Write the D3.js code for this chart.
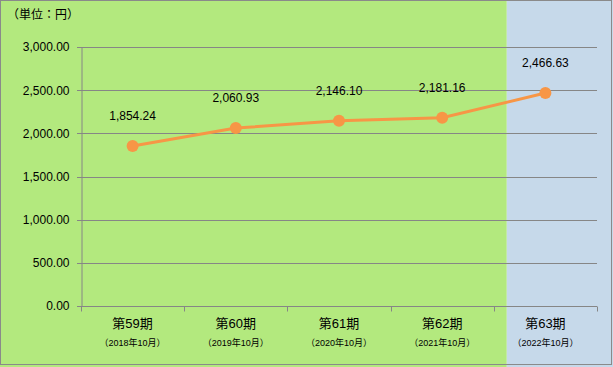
<!DOCTYPE html>
<html>
<head>
<meta charset="utf-8">
<script src="https://cdn.jsdelivr.net/npm/d3@7"></script>
<style>
  body { margin: 0; background: #fff; }
  text { font-family: "Liberation Sans", Arial, "Noto Sans CJK JP", sans-serif; }
</style>
</head>
<body>
<svg width="613" height="367"></svg>
<script>
// data
var periods = ["第59期", "第60期", "第61期", "第62期", "第63期"];
var dates = ["（2018年10月）", "（2019年10月）", "（2020年10月）", "（2021年10月）", "（2022年10月）"];
var values = [1854.24, 2060.93, 2146.10, 2181.16, 2466.63];
var yTicks = [0, 500, 1000, 1500, 2000, 2500, 3000];

function drawChart() {
  var width = 613, height = 367;
  // plot area (note: "top" is reserved on window, so use plot* names)
  var plotL = 81, plotR = 597, plotT = 47, plotB = 306;

  var svg = d3.select("svg");

  // x scale for the categories
  var x = d3.scaleBand()
    .domain(periods)
    .range([plotL, plotR]);
  var y = d3.scaleLinear()
    .domain([0, 3000])
    .range([plotB, plotT]);

  // background - green for past periods, blue for the latest
  var splitX = x(periods[4]) + 13;
  svg.append("rect")
    .attr("x", 0).attr("y", 0)
    .attr("width", splitX).attr("height", height)
    .attr("fill", "#b3e97e");
  svg.append("rect")
    .attr("x", splitX).attr("y", 0)
    .attr("width", width - splitX).attr("height", height)
    .attr("fill", "#c6d9ea");
  // outer border
  svg.append("rect")
    .attr("x", 0.5).attr("y", 0.5)
    .attr("width", 611).attr("height", 364)
    .attr("fill", "none")
    .attr("stroke", "#8a8a8a");

  // unit label
  svg.append("text")
    .attr("x", 7).attr("y", 19)
    .attr("font-size", 12)
    .attr("font-family", "Noto Sans CJK JP")
    .text("（単位：円）");

  // gridlines
  svg.append("g")
    .selectAll("line")
    .data(yTicks)
    .enter().append("line")
    .attr("x1", plotL - 4).attr("x2", plotR)
    .attr("y1", function(d) { return Math.round(y(d)) + 0.5; })
    .attr("y2", function(d) { return Math.round(y(d)) + 0.5; })
    .attr("stroke", "#868686");

  // y axis
  var yAxis = d3.axisLeft(y)
    .tickValues(yTicks)
    .tickSize(0)
    .tickPadding(12)
    .tickFormat(d3.format(",.2f"));
  var gy = svg.append("g")
    .attr("transform", "translate(" + (plotL + 0.5) + ",0)")
    .call(yAxis);
  gy.select(".domain").attr("stroke", "#868686");
  gy.selectAll("text")
    .attr("font-size", 12)
    .attr("font-family", "Liberation Sans, Arial")
    .attr("fill", "#000");

  // x axis
  var gx = svg.append("g")
    .attr("transform", "translate(0," + (Math.round(y(0)) + 0.5) + ")");
  gx.append("line")
    .attr("x1", plotL).attr("x2", plotR)
    .attr("stroke", "#868686");
  var bounds = [plotL].concat(periods.map(function(p) { return x(p) + x.bandwidth(); }));
  gx.selectAll(".bound")
    .data(bounds)
    .enter().append("line")
    .attr("class", "bound")
    .attr("x1", function(d) { return Math.round(d) + 0.5; })
    .attr("x2", function(d) { return Math.round(d) + 0.5; })
    .attr("y1", 0).attr("y2", 5)
    .attr("stroke", "#868686");

  // category labels
  svg.append("g")
    .selectAll("text")
    .data(periods)
    .enter().append("text")
    .attr("x", function(d) { return x(d) + x.bandwidth() / 2; })
    .attr("y", 328)
    .attr("text-anchor", "middle")
    .attr("font-size", 13)
    .attr("font-family", "Noto Sans CJK JP")
    .text(function(d) { return d; });
  svg.append("g")
    .selectAll("text")
    .data(dates)
    .enter().append("text")
    .attr("x", function(d, i) { return x(periods[i]) + x.bandwidth() / 2; })
    .attr("y", 346)
    .attr("text-anchor", "middle")
    .attr("font-size", 9)
    .attr("font-family", "Noto Sans CJK JP")
    .text(function(d) { return d; });

  // line
  var cx = function(d, i) { return x(periods[i]) + x.bandwidth() / 2; };
  var line = d3.line()
    .x(cx)
    .y(function(d) { return y(d); });
  svg.append("path")
    .datum(values)
    .attr("d", line)
    .attr("fill", "none")
    .attr("stroke", "#f79646")
    .attr("stroke-width", 3);

  svg.append("g")
    .selectAll("circle")
    .data(values)
    .enter().append("circle")
    .attr("cx", cx)
    .attr("cy", function(d) { return y(d); })
    .attr("r", 6)
    .attr("fill", "#f79646");

  // value labels
  svg.append("g")
    .selectAll("text")
    .data(values)
    .enter().append("text")
    .attr("x", cx)
    .attr("y", function(d) { return y(d) - 26; })
    .attr("text-anchor", "middle")
    .attr("font-size", 12)
    .attr("font-family", "Liberation Sans, Arial")
    .text(function(d) { return d3.format(",.2f")(d); });
}
drawChart();
</script>
</body>
</html>
